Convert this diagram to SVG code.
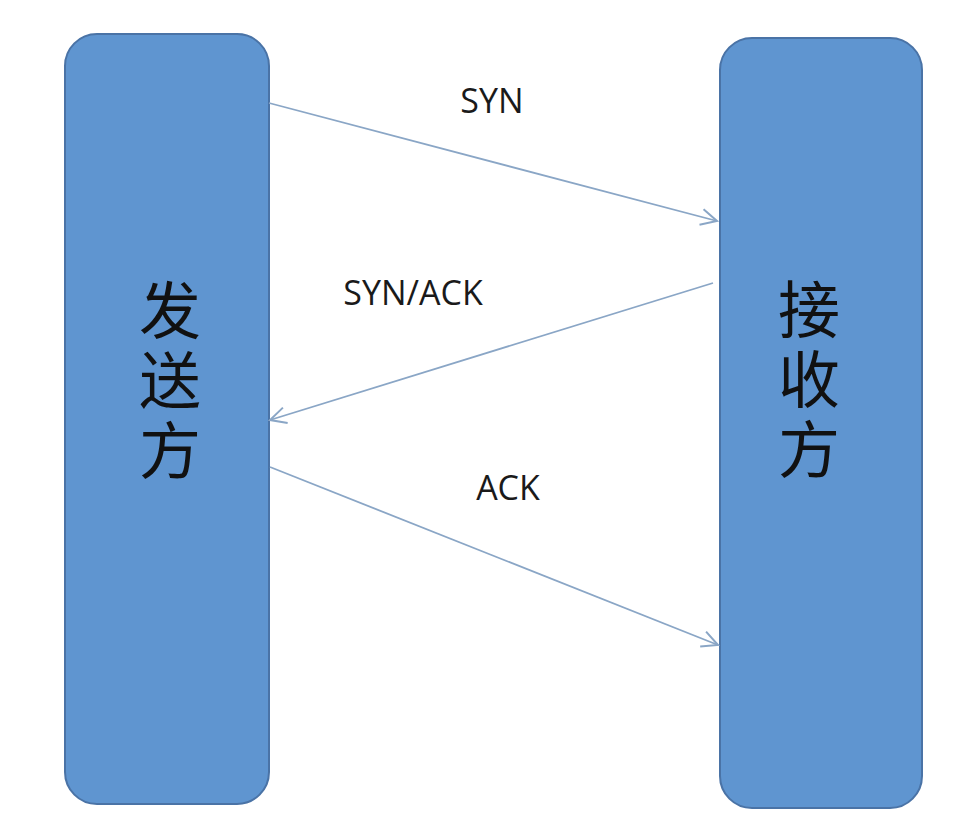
<svg xmlns="http://www.w3.org/2000/svg" width="962" height="828" viewBox="0 0 962 828">
<defs>
<style>
.box{fill:#5f95d0;stroke:#4a73a6;stroke-width:2}
.cjk{font-family:"Noto Sans CJK SC","Noto Sans",sans-serif;font-size:62px;fill:#111;text-anchor:middle;writing-mode:vertical-rl;letter-spacing:8px}
.lbl{font-family:"Open Sans","Liberation Sans",sans-serif;font-size:34px;fill:#1a1a1a;text-anchor:middle}
.conn{stroke:#8aa6c6;stroke-width:1.8;fill:none}
</style>
<marker id="arr" viewBox="0 0 20 20" refX="18" refY="10" markerWidth="20" markerHeight="20" markerUnits="userSpaceOnUse" orient="auto">
<path d="M2,2 L18,10 L2,18" fill="none" stroke="#8aa6c6" stroke-width="2"/>
</marker>
</defs>
<rect width="962" height="828" fill="#ffffff"/>
<g id="sender">
<rect class="box" x="65" y="34" width="204" height="770" rx="32"/>
<text class="cjk" x="170" y="384">发送方</text>
</g>
<g id="receiver">
<rect class="box" x="720" y="38" width="202" height="770" rx="32"/>
<text class="cjk" x="809" y="383">接收方</text>
</g>
<g id="connectors">
<line class="conn" x1="269" y1="103" x2="717" y2="221" marker-end="url(#arr)"/>
<line class="conn" x1="713" y1="283" x2="270" y2="420" marker-end="url(#arr)"/>
<line class="conn" x1="270" y1="467" x2="718" y2="645" marker-end="url(#arr)"/>
</g>
<g id="labels">
<text class="lbl" x="492" y="113">SYN</text>
<text class="lbl" x="413" y="305">SYN/ACK</text>
<text class="lbl" x="508" y="500">ACK</text>
</g>
</svg>
